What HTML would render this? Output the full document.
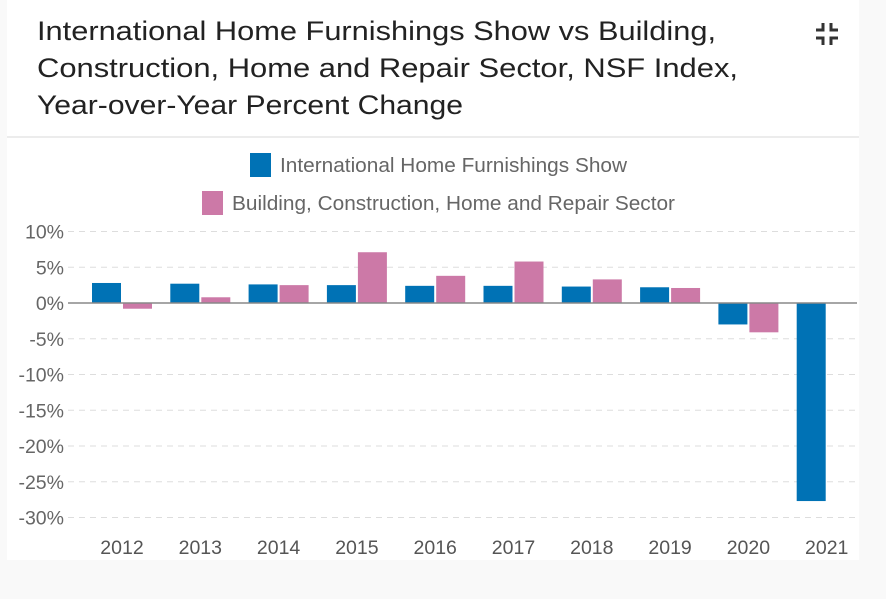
<!DOCTYPE html>
<html><head><meta charset="utf-8"><style>
body{margin:0;width:886px;height:599px;background:#fff;font-family:"Liberation Sans",sans-serif;overflow:hidden;position:relative}
#bg{position:absolute;left:0;top:0;width:886px;height:599px;background:#f9f9f9}
#card{position:absolute;left:7px;top:0;width:852px;height:560px;background:#fff}
#sep{position:absolute;left:7px;top:136px;width:852px;height:2px;background:#ececec}
</style></head><body>
<div id="bg"></div>
<div id="card"></div>
<svg width="760" height="130" style="position:absolute;left:0;top:0">
<g font-size="27" fill="#222" font-weight="500">
<text x="37" y="40" textLength="679" lengthAdjust="spacingAndGlyphs">International Home Furnishings Show vs Building,</text>
<text x="37" y="77" textLength="701" lengthAdjust="spacingAndGlyphs">Construction, Home and Repair Sector, NSF Index,</text>
<text x="37" y="114" textLength="426" lengthAdjust="spacingAndGlyphs">Year-over-Year Percent Change</text>
</g></svg>
<svg style="position:absolute;left:815px;top:22px" width="24" height="24"><g stroke="#333" stroke-width="3" fill="none"><path d="M8 1v7H1M16 1v7h7M8 23v-7H1M16 23v-7h7"/></g></svg>
<div id="sep"></div>
<svg id="chart" width="886" height="599" style="position:absolute;left:0;top:0"></svg>
<script>
const categories=["2012","2013","2014","2015","2016","2017","2018","2019","2020","2021"];
const seriesIHFS=[2.8,2.7,2.6,2.5,2.4,2.4,2.3,2.2,-3.0,-27.7];
const seriesBCHR=[-0.8,0.8,2.5,7.1,3.8,5.8,3.3,2.1,-4.1,null];
const yTicks=[10,5,0,-5,-10,-15,-20,-25,-30];
const NS="http://www.w3.org/2000/svg";
const svg=document.getElementById('chart');
function y(v){return 303-v*7.15;}
function xc(i){return 122+i*78.3;}
function el(t,a,p){const e=document.createElementNS(NS,t);for(const k in a)e.setAttribute(k,a[k]);(p||svg).appendChild(e);return e;}
yTicks.forEach(t=>{
  if(t!==0){const l=el('line',{x1:68,x2:857,y1:y(t),y2:y(t),stroke:'#ddd','stroke-dasharray':'6,5'});
  
  }
  const tx=el('text',{x:64,y:y(t)+7,'text-anchor':'end','font-size':'19.5',fill:'#666'});
  tx.textContent=t+'%';
  
  
});
categories.forEach((c,i)=>{
  const tx=el('text',{x:xc(i),y:554,'text-anchor':'middle','font-size':'19.5',fill:'#555'});
  tx.textContent=c;
  
  
  [[seriesIHFS,'#0072b5',-30],[seriesBCHR,'#cc79a7',1]].forEach(([s,col,off])=>{
    const v=s[i]; if(v===null)return;
    const r=el('rect',{x:xc(i)+off,y:Math.min(y(0),y(v)),width:29,height:Math.abs(y(v)-y(0)),fill:col});
    
    
  });
});
const z=el('line',{x1:68,x2:857,y1:y(0),y2:y(0),stroke:'#888','stroke-width':1.5});


[['International Home Furnishings Show','#0072b5',250,153,347],['Building, Construction, Home and Repair Sector','#cc79a7',202,191,443]].forEach(([t,c,x0,y0,w])=>{
  const g=el('g',{});
  
  
  el('rect',{x:x0,y:y0,width:21,height:24,fill:c},g);
  const tx=el('text',{x:x0+30,y:y0+19,'font-size':'20',fill:'#666',textLength:w,lengthAdjust:'spacingAndGlyphs'},g);
  tx.textContent=t;
});
</script>
</body></html>
